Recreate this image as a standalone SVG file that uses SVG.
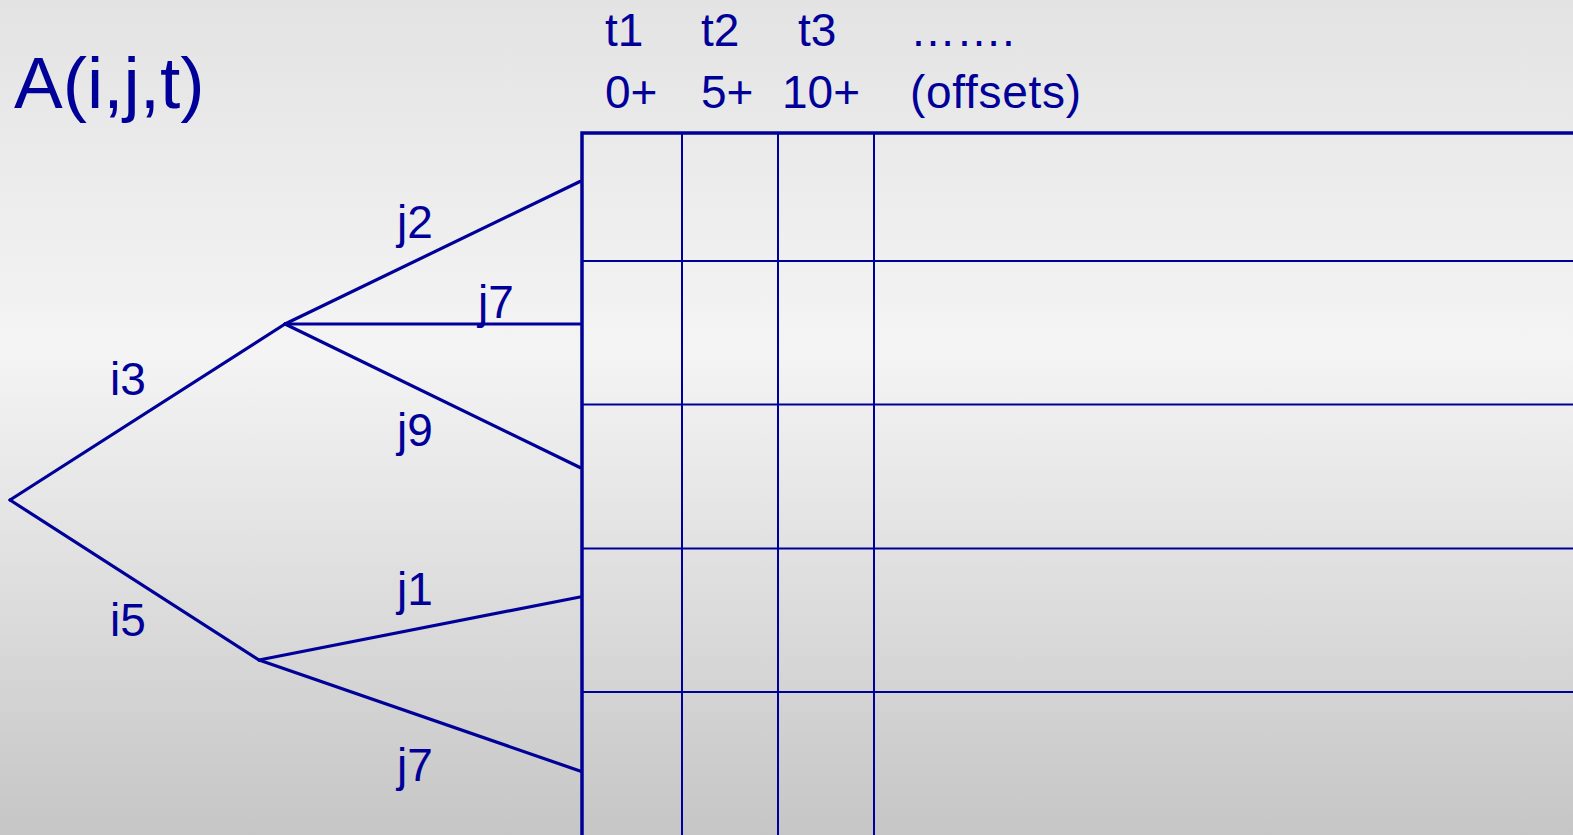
<svg xmlns="http://www.w3.org/2000/svg" width="1573" height="835" viewBox="0 0 1573 835">
<style>
.t{font-family:"Liberation Sans",Arial,sans-serif;fill:#000099;font-variant-ligatures:none;font-feature-settings:"liga" 0}
.br{stroke:#000099;stroke-width:3.2;fill:none;stroke-linecap:round}
.g{stroke:#000099;stroke-width:2;fill:none}
.gb{stroke:#000099;stroke-width:3.5;fill:none}
</style>
<defs>
<linearGradient id="bg" x1="0" y1="0" x2="0" y2="1">
<stop offset="0" stop-color="#e3e3e3"/>
<stop offset="0.42" stop-color="#f4f4f4"/>
<stop offset="1" stop-color="#c6c6c6"/>
</linearGradient>
</defs>
<rect width="1573" height="835" fill="url(#bg)"/>
<text class="t" x="14" y="108" font-size="73">A(i,j,t)</text>
<g id="header" class="t" font-size="46">
<text x="605" y="46">t1</text>
<text x="701" y="46">t2</text>
<text x="798" y="46">t3</text>
<text x="910" y="46">…….</text>
<text x="605" y="108">0+</text>
<text x="701" y="108">5+</text>
<text x="782" y="108">10+</text>
<text x="910" y="108" textLength="171" lengthAdjust="spacing">(offsets)</text>
</g>
<g id="grid">
<line class="g" x1="682" y1="133" x2="682" y2="835"/>
<line class="g" x1="778" y1="133" x2="778" y2="835"/>
<line class="g" x1="874" y1="133" x2="874" y2="835"/>
<line class="g" x1="582" y1="261" x2="1573" y2="261"/>
<line class="g" x1="582" y1="404.5" x2="1573" y2="404.5"/>
<line class="g" x1="582" y1="548.5" x2="1573" y2="548.5"/>
<line class="g" x1="582" y1="692" x2="1573" y2="692"/>
<polyline class="gb" points="582,835 582,133 1573,133"/>
</g>
<g id="connectors">
<line class="br" x1="10" y1="500" x2="285" y2="324"/>
<line class="br" x1="10" y1="500" x2="259" y2="660"/>
<line class="br" x1="285" y1="324" x2="580" y2="181.5"/>
<line class="br" x1="285" y1="324" x2="580" y2="324"/>
<line class="br" x1="285" y1="324" x2="580" y2="467.5"/>
<line class="br" x1="259" y1="660" x2="580" y2="597"/>
<line class="br" x1="259" y1="660" x2="580" y2="771"/>
</g>
<g id="labels" class="t" font-size="46">
<text x="110" y="395">i3</text>
<text x="110" y="636">i5</text>
<text x="397" y="238">j2</text>
<text x="478" y="318">j7</text>
<text x="397" y="446">j9</text>
<text x="397" y="605">j1</text>
<text x="397" y="781">j7</text>
</g>
</svg>
